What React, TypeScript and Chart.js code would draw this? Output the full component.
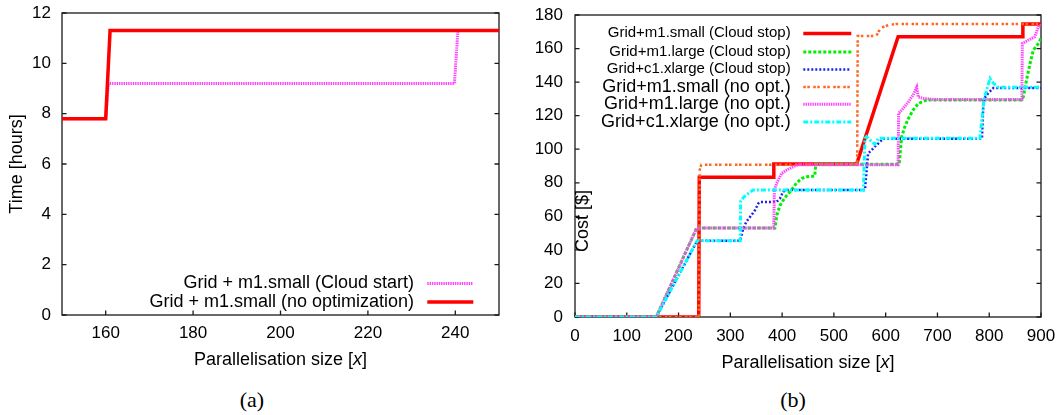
import React, { useEffect, useRef } from "react";
import { Chart, registerables } from "chart.js";
Chart.register(...registerables);

// ---------- Panel (a): Time vs parallelisation size ----------
const aCloudStartX = [150, 160, 160.6, 239.8, 240.6, 250];
const aCloudStartY = [7.8, 7.8, 9.2, 9.2, 11.3, 11.3];
const aNoOptX = [150, 160, 161, 250];
const aNoOptY = [7.8, 7.8, 11.3, 11.3];
const aXTicks = [160, 180, 200, 220, 240];
const aYTicks = [0, 2, 4, 6, 8, 10, 12];
const aLabels = ["Grid + m1.small (Cloud start)", "Grid + m1.small (no optimization)"];

// ---------- Panel (b): Cost vs parallelisation size ----------
const bM1SmallStopX = [0, 239, 240, 383, 384, 544, 624, 864, 865, 900];
const bM1SmallStopY = [0, 0, 83.3, 83.3, 91.2, 91.2, 167, 167, 174.6, 174.6];

const bM1LargeStopX = [0, 157, 235, 386, 390, 396, 402, 409, 418, 428, 438, 445, 463, 465, 626, 631, 637, 644, 653, 663, 679, 862, 866, 872, 879, 885, 895, 900];
const bM1LargeStopY = [0, 0, 53, 53, 61, 66.5, 69.5, 72.5, 75.5, 80, 82.5, 83.5, 84, 91, 91, 107.5, 113.4, 118.4, 123.4, 127.3, 129.3, 129.3, 131.3, 141.2, 151.2, 159, 163, 166];

const bC1XlargeStopX = [0, 157, 236, 319, 325, 331, 341, 348, 354, 357, 389, 396, 402, 409, 560, 566, 573, 579, 586, 595, 786, 789, 795, 801, 808, 900];
const bC1XlargeStopY = [0, 0, 45.5, 45.5, 52.8, 56.8, 60.8, 63.8, 67.7, 68.5, 68.5, 70.7, 74.7, 75.7, 75.7, 97.5, 99.5, 101.5, 103.5, 106.3, 106.3, 129.3, 132.3, 134.3, 136.5, 136.5];

const bM1SmallNoOptX = [0, 239, 241, 244, 545, 546, 582, 586, 592, 605, 620, 900];
const bM1SmallNoOptY = [0, 0, 88, 90.8, 90.8, 167.5, 167.5, 170, 172.5, 174, 174.6, 174.6];

const bM1LargeNoOptX = [0, 157, 235, 384, 385, 389.5, 399, 409, 422, 431, 624, 625, 634, 644, 653, 660, 663, 673, 692, 863, 864, 875.5, 888, 895, 900];
const bM1LargeNoOptY = [0, 0, 53, 53, 75.7, 79.7, 85.6, 87.6, 89.6, 90.8, 90.8, 121.4, 124.4, 128.3, 132.3, 136.9, 131.1, 130.3, 129.7, 129.7, 163, 165, 167, 173, 174];

const bC1XlargeNoOptX = [0, 157, 236, 319, 320, 326, 334, 344, 557, 560, 563, 573, 579, 586, 782, 790, 801.5, 808, 817.6, 900];
const bC1XlargeNoOptY = [0, 0, 45.5, 45.5, 69, 71.5, 73.5, 75.7, 75.7, 106.5, 107.5, 104.5, 103, 106.5, 106.5, 130, 142.2, 139.3, 136.9, 136.9];

const bXTicks = [0, 100, 200, 300, 400, 500, 600, 700, 800, 900];
const bYTicks = [0, 20, 40, 60, 80, 100, 120, 140, 160, 180];
const bLabels = [
  "Grid+m1.small (Cloud stop)",
  "Grid+m1.large (Cloud stop)",
  "Grid+c1.xlarge (Cloud stop)",
  "Grid+m1.small (no opt.)",
  "Grid+m1.large (no opt.)",
  "Grid+c1.xlarge (no opt.)",
];

const FONT = "'Liberation Sans', Arial, Helvetica, sans-serif";

const zip = (xs: number[], ys: number[]) => xs.map((x, i) => ({ x, y: ys[i] }));

type Style = { color: string; width: number; dash: number[] };
type LegendRow = { label: string; style: Style; size: number; y: number };
type PanelCfg = {
  xTicks: number[];
  yTicks: number[];
  yTitle: string;
  yTitleX: number;
  yTitleY: number | null;
  xTitleY: number;
  legendRight: number;
  sample0: number;
  sample1: number;
  legend: LegendRow[];
};

function drawXTitle(ctx: CanvasRenderingContext2D, cx: number, cy: number) {
  const parts: [string, string][] = [
    ["Parallelisation size [", `18px ${FONT}`],
    ["x", `italic 18px ${FONT}`],
    ["]", `18px ${FONT}`],
  ];
  let total = 0;
  for (const [t, f] of parts) {
    ctx.font = f;
    total += ctx.measureText(t).width;
  }
  let x = cx - total / 2;
  ctx.textAlign = "left";
  ctx.textBaseline = "middle";
  ctx.fillStyle = "#000";
  for (const [t, f] of parts) {
    ctx.font = f;
    ctx.fillText(t, x, cy);
    x += ctx.measureText(t).width;
  }
}

function makePanelPlugin(cfg: PanelCfg) {
  return {
    id: "panelDecor",
    beforeDatasetsDraw(chart: any) {
      const { ctx, chartArea } = chart;
      const { left, right, top, bottom } = chartArea;
      const xs = chart.scales.x;
      const ys = chart.scales.y;
      ctx.save();
      ctx.strokeStyle = "#1a1a1a";
      ctx.lineWidth = 1.3;
      ctx.strokeRect(left, top, right - left, bottom - top);
      ctx.beginPath();
      for (const v of cfg.xTicks) {
        const px = xs.getPixelForValue(v);
        ctx.moveTo(px, bottom);
        ctx.lineTo(px, bottom - 4.5);
      }
      for (const v of cfg.yTicks) {
        const py = ys.getPixelForValue(v);
        ctx.moveTo(left, py);
        ctx.lineTo(left + 4.5, py);
        ctx.moveTo(right, py);
        ctx.lineTo(right - 4.5, py);
      }
      ctx.stroke();
      ctx.restore();
    },
    afterDraw(chart: any) {
      const { ctx, chartArea } = chart;
      const { left, right, top, bottom } = chartArea;
      ctx.save();
      drawXTitle(ctx, (left + right) / 2, cfg.xTitleY);
      ctx.save();
      const yc = cfg.yTitleY === null ? (top + bottom) / 2 : cfg.yTitleY;
      ctx.translate(cfg.yTitleX, yc);
      ctx.rotate(-Math.PI / 2);
      ctx.font = `18px ${FONT}`;
      ctx.fillStyle = "#000";
      ctx.textAlign = "center";
      ctx.textBaseline = "middle";
      ctx.fillText(cfg.yTitle, 0, 0);
      ctx.restore();
      for (const row of cfg.legend) {
        ctx.font = `${row.size}px ${FONT}`;
        ctx.fillStyle = "#000";
        ctx.textAlign = "right";
        ctx.textBaseline = "middle";
        ctx.fillText(row.label, cfg.legendRight, row.y);
        ctx.beginPath();
        ctx.strokeStyle = row.style.color;
        ctx.lineWidth = row.style.width;
        ctx.setLineDash(row.style.dash);
        ctx.lineDashOffset = 0;
        ctx.lineCap = "butt";
        ctx.moveTo(cfg.sample0, row.y + 0.3);
        ctx.lineTo(cfg.sample1, row.y + 0.3);
        ctx.stroke();
        ctx.setLineDash([]);
      }
      ctx.restore();
    },
  };
}

function ds(label: string, xs: number[], ys: number[], st: Style, order: number) {
  return {
    label,
    data: zip(xs, ys),
    borderColor: st.color,
    backgroundColor: st.color,
    borderWidth: st.width,
    borderDash: st.dash,
    borderCapStyle: "butt",
    pointRadius: 0,
    tension: 0,
    fill: false,
    order,
  };
}

function axisCommon(ticks: number[], padding: number) {
  return {
    type: "linear",
    grid: { display: false, drawTicks: false },
    border: { display: false },
    afterBuildTicks: (s: any) => {
      s.ticks = ticks.map((v) => ({ value: v }));
    },
    ticks: {
      font: { family: FONT, size: 17 },
      color: "#000",
      padding,
      maxRotation: 0,
      autoSkip: false,
    },
  };
}

// ---- styles
const aStyleCloudStart: Style = { color: "#ff44ff", width: 3, dash: [1.4, 0.9] };
const aStyleNoOpt: Style = { color: "#ff0000", width: 3.5, dash: [] };

const bStyles: Style[] = [
  { color: "#ff0000", width: 3.5, dash: [] },
  { color: "#00ee00", width: 3, dash: [3, 2] },
  { color: "#2020ee", width: 2.5, dash: [2, 2] },
  { color: "#ff6622", width: 2.5, dash: [2.5, 1.5, 2.5, 3.5] },
  { color: "#ff44ff", width: 3, dash: [1.4, 0.9] },
  { color: "#00ffff", width: 3, dash: [5, 2, 2, 2] },
];

function configA() {
  const cfg: PanelCfg = {
    xTicks: aXTicks,
    yTicks: aYTicks,
    yTitle: "Time [hours]",
    yTitleX: 17.5,
    yTitleY: null,
    xTitleY: 360,
    legendRight: 414,
    sample0: 427.3,
    sample1: 473.3,
    legend: [
      { label: aLabels[0], style: aStyleCloudStart, size: 18, y: 283.3 },
      { label: aLabels[1], style: aStyleNoOpt, size: 18, y: 301.7 },
    ],
  };
  return {
    type: "line",
    data: {
      datasets: [
        ds(aLabels[0], aCloudStartX, aCloudStartY, aStyleCloudStart, 2),
        ds(aLabels[1], aNoOptX, aNoOptY, aStyleNoOpt, 1),
      ],
    },
    options: {
      responsive: false,
      animation: false,
      devicePixelRatio: 1,
      layout: { padding: { left: 0, right: 21, top: 13, bottom: 0 } },
      plugins: { legend: { display: false }, tooltip: { enabled: false } },
      scales: {
        x: {
          ...axisCommon(aXTicks, 8),
          min: 150,
          max: 250,
          afterFit: (s: any) => {
            s.height = 65;
            s.paddingLeft = 0;
            s.paddingRight = 0;
          },
        },
        y: {
          ...axisCommon(aYTicks, 11),
          min: 0,
          max: 12,
          afterFit: (s: any) => {
            s.width = 62;
            s.paddingTop = 0;
            s.paddingBottom = 0;
          },
        },
      },
    },
    plugins: [makePanelPlugin(cfg)],
  };
}

function configB() {
  const cfg: PanelCfg = {
    xTicks: bXTicks,
    yTicks: bYTicks,
    yTitle: "Cost [$]",
    yTitleX: 53,
    yTitleY: 221,
    xTitleY: 363,
    legendRight: 260.7,
    sample0: 273.3,
    sample1: 321.3,
    legend: [
      { label: bLabels[0], style: bStyles[0], size: 15, y: 33.3 },
      { label: bLabels[1], style: bStyles[1], size: 15, y: 51.7 },
      { label: bLabels[2], style: bStyles[2], size: 15, y: 69.3 },
      { label: bLabels[3], style: bStyles[3], size: 18, y: 86.7 },
      { label: bLabels[4], style: bStyles[4], size: 18, y: 104 },
      { label: bLabels[5], style: bStyles[5], size: 18, y: 121.7 },
    ],
  };
  const series: [number[], number[]][] = [
    [bM1SmallStopX, bM1SmallStopY],
    [bM1LargeStopX, bM1LargeStopY],
    [bC1XlargeStopX, bC1XlargeStopY],
    [bM1SmallNoOptX, bM1SmallNoOptY],
    [bM1LargeNoOptX, bM1LargeNoOptY],
    [bC1XlargeNoOptX, bC1XlargeNoOptY],
  ];
  return {
    type: "line",
    data: {
      datasets: series.map(([xs, ys], i) => ds(bLabels[i], xs, ys, bStyles[i], series.length - i)),
    },
    options: {
      responsive: false,
      animation: false,
      devicePixelRatio: 1,
      layout: { padding: { left: 0, right: 20, top: 15, bottom: 0 } },
      plugins: { legend: { display: false }, tooltip: { enabled: false } },
      scales: {
        x: {
          ...axisCommon(bXTicks, 9),
          min: 0,
          max: 900,
          afterFit: (s: any) => {
            s.height = 63;
            s.paddingLeft = 0;
            s.paddingRight = 0;
          },
        },
        y: {
          ...axisCommon(bYTicks, 12),
          min: 0,
          max: 180,
          afterFit: (s: any) => {
            s.width = 45;
            s.paddingTop = 0;
            s.paddingBottom = 0;
          },
        },
      },
    },
    plugins: [makePanelPlugin(cfg)],
  };
}

function ChartCanvas({ make, left, width, height }: { make: () => any; left: number; width: number; height: number }) {
  const ref = useRef<HTMLCanvasElement>(null);
  useEffect(() => {
    const chart = new Chart(ref.current as HTMLCanvasElement, make());
    return () => chart.destroy();
  }, []);
  return (
    <canvas
      ref={ref}
      width={width}
      height={height}
      style={{ position: "absolute", left, top: 0, width, height }}
    />
  );
}

const capStyle = (cx: number): React.CSSProperties => ({
  position: "absolute",
  left: cx - 40,
  width: 80,
  top: 385,
  height: 30,
  lineHeight: "30px",
  textAlign: "center",
  fontFamily: "'Liberation Serif', 'Times New Roman', serif",
  fontSize: 22,
  color: "#000",
});

export default function App() {
  return (
    <div
      style={{
        position: "absolute",
        left: 0,
        top: 0,
        width: 1061,
        height: 415,
        background: "#fff",
        overflow: "hidden",
      }}
    >
      <ChartCanvas make={configA} left={0} width={520} height={380} />
      <ChartCanvas make={configB} left={530} width={531} height={380} />
      <div style={capStyle(252)}>(a)</div>
      <div style={capStyle(793)}>(b)</div>
    </div>
  );
}
